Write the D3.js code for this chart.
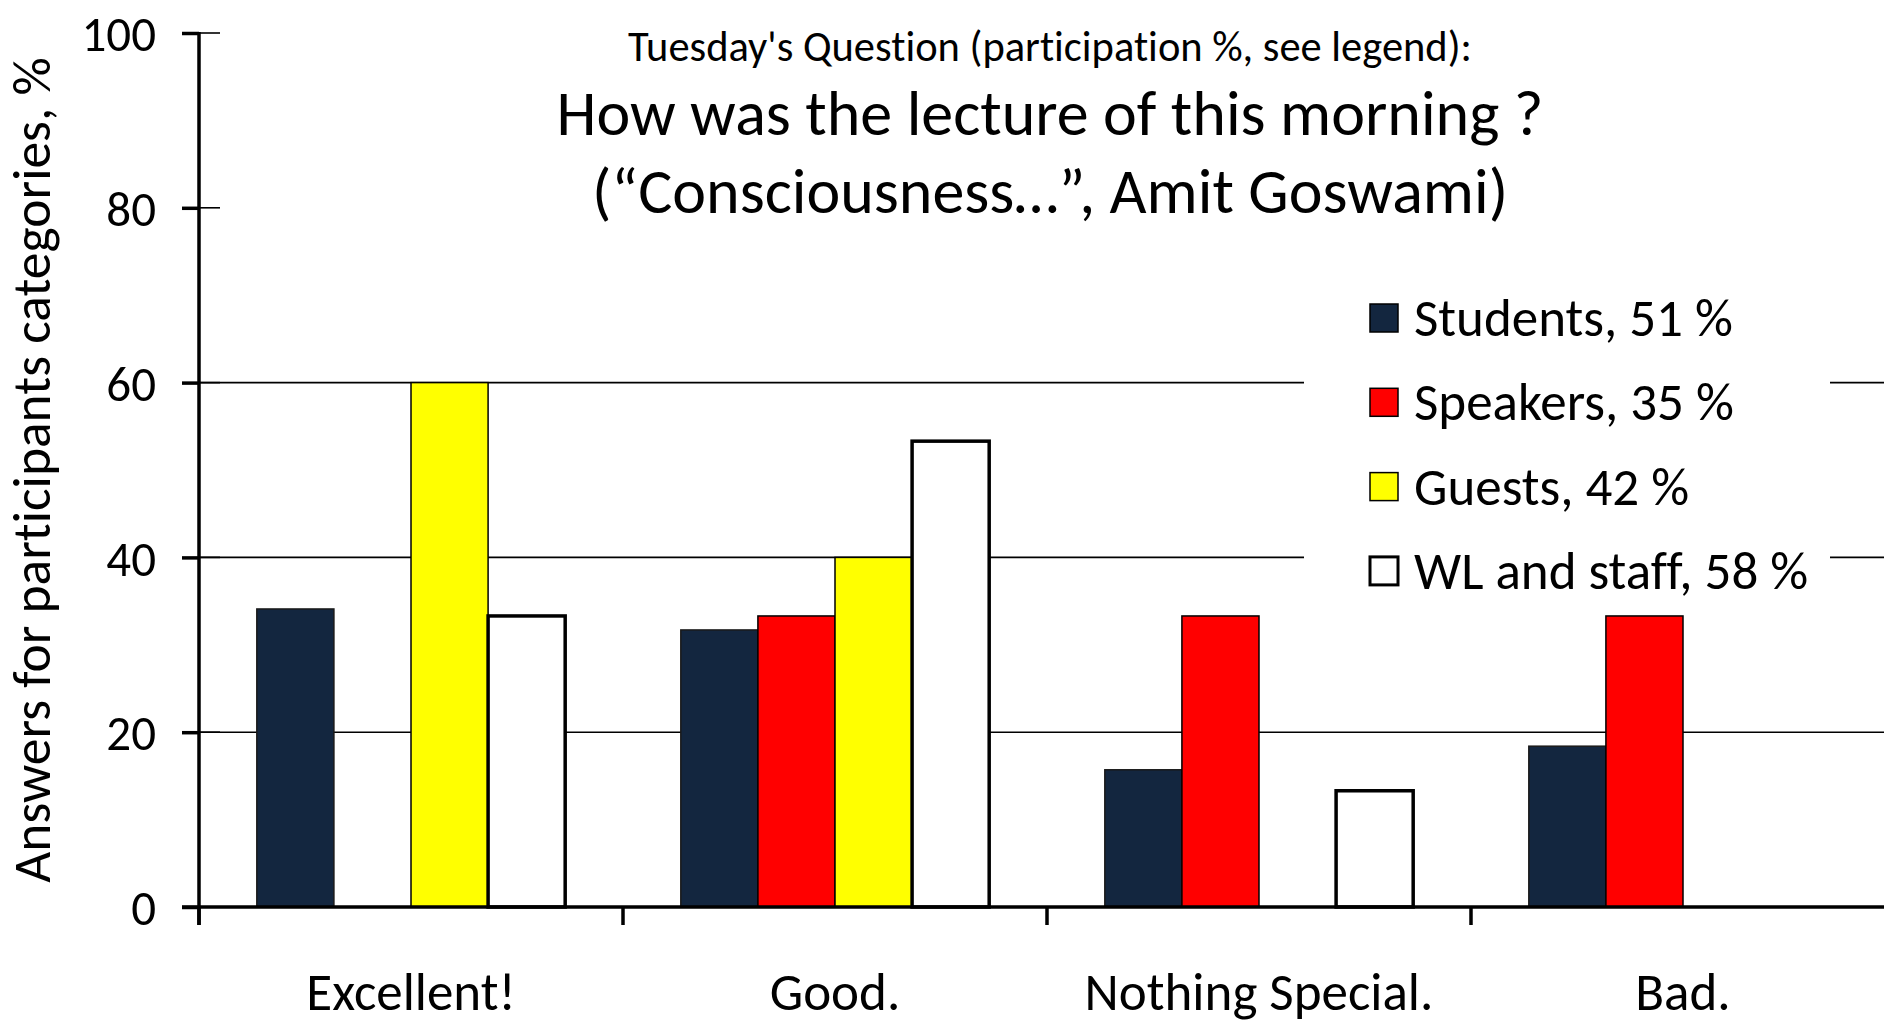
<!DOCTYPE html>
<html>
<head>
<meta charset="utf-8">
<script src="https://cdn.jsdelivr.net/npm/d3@7"></script>
<style>
  body { margin: 0; background: #fff; }
  svg { display: block; }
  text { font-family: Carlito, Lato, sans-serif; fill: #000; font-variant-ligatures: none; }
</style>
</head>
<body>
<svg id="chart" width="1884" height="1023"></svg>
<script>
// data
var categories = ["Excellent!", "Good.", "Nothing Special.", "Bad."];
var seriesNames = ["Students, 51 %", "Speakers, 35 %", "Guests, 42 %", "WL and staff, 58 %"];
var students = [34.1, 31.7, 15.7, 18.4];
var speakers = [0, 33.3, 33.3, 33.3];
var guests   = [60, 40, 0, 0];
var staff    = [33.3, 53.3, 13.3, 0];
var yTicks = [0, 20, 40, 60, 80, 100];
var gridTicks = [20, 40, 60];
var subtitle = "Tuesday's Question (participation %, see legend):";
var titleLines = ["How was the lecture of this morning ?", "(\u201cConsciousness\u2026\u201d, Amit Goswami)"];
var yTitle = "Answers for participants categories, %";

var fills = ["#13263f", "#ff0000", "#ffff00", "#ffffff"];
var strokes = ["#1a1a1a", "#000", "#000", "#000"];
var strokeW = [1.5, 1.5, 1.5, 3.5];

var values = [students, speakers, guests, staff];

var svg = d3.select("#chart");

var x = d3.scaleBand().domain(categories).range([199, 1895]).paddingInner(0).paddingOuter(0);
var xs = d3.scaleBand().domain(d3.range(4)).range([0, x.bandwidth()]).paddingInner(0).paddingOuter(0.75);
var y = d3.scaleLinear().domain([0, 100]).range([907, 33]);

// gridlines
svg.append("g").selectAll("line")
  .data(gridTicks)
  .enter().append("line")
  .attr("x1", 199).attr("x2", 1884)
  .attr("y1", function(d) { return y(d); })
  .attr("y2", function(d) { return y(d); })
  .attr("stroke", "#000").attr("stroke-width", 1.6);

// inner tick stubs
svg.append("g").selectAll("line")
  .data(yTicks)
  .enter().append("line")
  .attr("x1", 199).attr("x2", 220)
  .attr("y1", function(d) { return y(d); })
  .attr("y2", function(d) { return y(d); })
  .attr("stroke", "#000").attr("stroke-width", 1.6);

// legend background hides the gridlines behind it
svg.append("rect")
  .attr("x", 1304).attr("y", 285).attr("width", 526).attr("height", 315)
  .attr("fill", "#fff");

// bars
var groups = svg.append("g").selectAll("g")
  .data(categories)
  .enter().append("g")
  .attr("transform", function(d) { return "translate(" + x(d) + ",0)"; });

groups.selectAll("rect")
  .data(function(d, i) {
    return values.map(function(v, s) { return { s: s, v: v[i] }; }).filter(function(b) { return b.v > 0; });
  })
  .enter().append("rect")
  .attr("x", function(d) { return xs(d.s); })
  .attr("width", xs.bandwidth())
  .attr("y", function(d) { return y(d.v); })
  .attr("height", function(d) { return y(0) - y(d.v); })
  .attr("fill", function(d) { return fills[d.s]; })
  .attr("stroke", function(d) { return strokes[d.s]; })
  .attr("stroke-width", function(d) { return strokeW[d.s]; });

// y axis
var yAxis = svg.append("g")
  .attr("transform", "translate(199,0)")
  .call(d3.axisLeft(y).tickValues(yTicks).tickSize(17).tickPadding(26).tickSizeOuter(0));
yAxis.select(".domain").remove();
yAxis.selectAll(".tick line").attr("stroke", "#000").attr("stroke-width", 3.5);
yAxis.selectAll(".tick text").style("font-size", "49px").attr("dy", "0.36em");

svg.append("line")
  .attr("x1", 199).attr("x2", 199).attr("y1", y(100) - 1).attr("y2", 925)
  .attr("stroke", "#000").attr("stroke-width", 3.5);

// x axis
svg.append("line")
  .attr("x1", 182).attr("x2", 1884).attr("y1", y(0)).attr("y2", y(0))
  .attr("stroke", "#000").attr("stroke-width", 3.5);

svg.append("g").selectAll("line")
  .data(categories)
  .enter().append("line")
  .attr("x1", function(d) { return x(d); })
  .attr("x2", function(d) { return x(d); })
  .attr("y1", y(0)).attr("y2", 925)
  .attr("stroke", "#000").attr("stroke-width", 3.5);

svg.append("g").selectAll("text")
  .data(categories)
  .enter().append("text")
  .attr("x", function(d) { return x(d) + x.bandwidth() / 2; })
  .attr("y", 1010)
  .attr("text-anchor", "middle")
  .style("font-size", "53px")
  .text(function(d) { return d; });

// y title
svg.append("text")
  .attr("transform", "translate(50," + (y(50)) + ") rotate(-90)")
  .attr("text-anchor", "middle")
  .style("font-size", "53.5px")
  .text(yTitle);

// titles
svg.append("text")
  .attr("x", 1050).attr("y", 61)
  .attr("text-anchor", "middle")
  .style("font-size", "42.5px")
  .text(subtitle);

svg.append("g").selectAll("text")
  .data(titleLines)
  .enter().append("text")
  .attr("x", 1050)
  .attr("y", function(d, i) { return 135 + i * 78; })
  .attr("text-anchor", "middle")
  .style("font-size", "64px")
  .text(function(d) { return d; });

// legend
var legend = svg.append("g").selectAll("g")
  .data(seriesNames)
  .enter().append("g")
  .attr("transform", function(d, i) { return "translate(1370," + (318 + i * 84.3) + ")"; });

legend.append("rect")
  .attr("x", 0).attr("y", -14).attr("width", 28).attr("height", 28)
  .attr("fill", function(d, i) { return fills[i]; })
  .attr("stroke", "#000")
  .attr("stroke-width", function(d, i) { return i === 3 ? 3 : 1.5; });

legend.append("text")
  .attr("x", 44).attr("y", 18)
  .style("font-size", "53px")
  .text(function(d) { return d; });
</script>
</body>
</html>
